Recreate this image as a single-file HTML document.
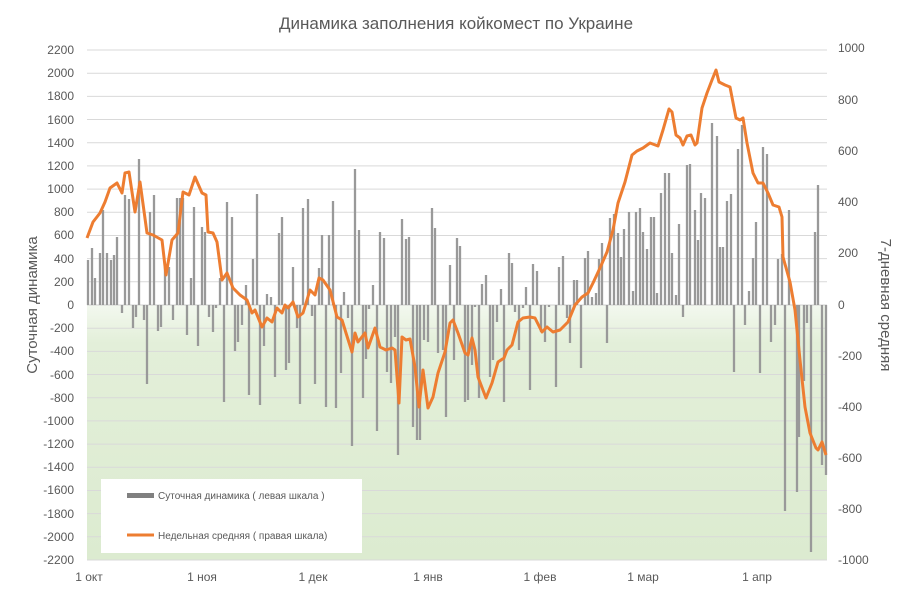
<!DOCTYPE html>
<html><head><meta charset="utf-8"><style>
body{margin:0;background:#fff;}
svg text{font-family:"Liberation Sans","DejaVu Sans",sans-serif;fill:#595959;}
</style></head><body>
<svg width="912" height="600" viewBox="0 0 912 600" xmlns="http://www.w3.org/2000/svg">
<defs><linearGradient id="g" x1="0" y1="0" x2="0" y2="1">
<stop offset="0" stop-color="#f3f8ef"/><stop offset="0.15" stop-color="#e3efd9"/><stop offset="1" stop-color="#dcebd0"/></linearGradient></defs>
<rect x="87" y="305" width="740" height="255" fill="url(#g)"/>
<g stroke="#d9d9d9" stroke-width="1">
<path d="M87 50H827M87 73.2H827M87 96.4H827M87 119.5H827M87 142.7H827M87 165.9H827M87 189.1H827M87 212.3H827M87 235.5H827M87 258.6H827M87 281.8H827M87 328.2H827M87 351.4H827M87 374.5H827M87 397.7H827M87 420.9H827M87 444.1H827M87 467.3H827M87 490.5H827M87 513.6H827M87 536.8H827M87 560H827"/>
</g>
<line x1="87" y1="305" x2="827" y2="305" stroke="#d0d0d0"/>
<path stroke="#999" stroke-width="2.3" fill="none" d="M88 305V260M92 305V248M95 305V278M100 305V253M103 305V210M107 305V253M111 305V260M114 305V255M117 305V237M122 305V313M125 305V195M129 305V199M133 305V328M136 305V317M139 305V159M144 305V320M147 305V384M150 305V212M154 305V195M158 305V331M161 305V327M165 305V267M169 305V267M173 305V320M177 305V198M180 305V198M183 305V198M187 305V335M191 305V278M194 305V207M198 305V346M202 305V227M205 305V232M209 305V317M213 305V332M216 305V308M220 305V278M224 305V402M227 305V202M232 305V217M235 305V351M238 305V342M242 305V325M246 305V285M249 305V395M253 305V259M257 305V194M260 305V405M264 305V346M267 305V294M271 305V297M275 305V377M279 305V233M282 305V217M286 305V370M289 305V363M293 305V267M297 305V328M300 305V404M303 305V208M308 305V199M312 305V316M315 305V384M319 305V268M322 305V235M326 305V407M329 305V235M333 305V201M336 305V408M341 305V373M344 305V292M348 305V318M352 305V446M355 305V169M359 305V230M363 305V398M366 305V359M369 305V309M373 305V285M377 305V431M380 305V232M384 305V238M387 305V372M391 305V383M395 305V337M398 305V455M402 305V219M406 305V239M409 305V237M413 305V427M417 305V440M420 305V440M424 305V340M428 305V342M432 305V208M435 305V228M438 305V353M443 305V350M446 305V417M450 305V265M454 305V360M457 305V238M460 305V246M465 305V402M468 305V400M472 305V365M475 305V307M479 305V398M482 305V284M486 305V275M490 305V377M493 305V360M497 305V322M501 305V289M504 305V402M509 305V253M512 305V263M515 305V312M519 305V350M523 305V308M526 305V287M530 305V390M533 305V264M537 305V271M541 305V332M545 305V342M549 305V307M556 305V387M559 305V267M563 305V256M567 305V318M570 305V343M574 305V280M577 305V280M581 305V368M585 305V258M588 305V251M592 305V297M596 305V293M599 305V259M602 305V243M607 305V343M610 305V218M614 305V214M618 305V233M621 305V257M624 305V229M629 305V212M633 305V291M636 305V212M640 305V208M643 305V232M647 305V249M651 305V217M654 305V217M657 305V293M661 305V193M665 305V173M669 305V173M672 305V253M676 305V295M679 305V224M683 305V317M687 305V165M690 305V164M695 305V210M698 305V240M701 305V193M705 305V198M712 305V123M717 305V136M720 305V247M723 305V247M727 305V201M731 305V194M734 305V372M738 305V149M742 305V125M745 305V325M749 305V291M753 305V258M756 305V222M760 305V373M763 305V147M767 305V154M771 305V342M775 305V325M778 305V259M782 305V254M785 305V511M789 305V210M797 305V492M799 305V437M804 305V381M807 305V323M811 305V552M815 305V232M818 305V185M822 305V465M826 305V475"/>
<polyline fill="none" stroke="#ED7D31" stroke-width="3" stroke-linejoin="round" points="87,238 93,222 100,213 105,202 110,188 117,183 122,193 125,173 129,172 135,212 140,182 147,233 153,235 162,240 166,275 172,240 178,233 183,192 189,195 195,177 202,193 206,195 208,232 213,233 217,242 222,280 227,273 233,288 240,295 247,300 252,313 255,310 262,327 267,318 272,322 277,308 282,313 285,305 288,308 293,302 298,317 303,313 310,290 315,295 319,278 323,280 330,290 337,317 342,320 346,333 352,352 355,333 358,342 365,333 368,348 375,328 380,347 386,350 392,348 395,350 399,403 402,337 406,340 410,339 415,367 419,407 423,370 428,408 433,397 438,373 445,352 450,323 453,320 458,333 465,353 468,355 472,338 475,350 478,377 486,398 492,383 498,362 504,358 507,350 512,345 518,322 523,318 530,317 535,318 542,332 547,327 553,332 560,330 568,322 575,305 582,297 588,293 593,283 600,268 607,252 613,230 618,203 625,182 632,155 637,151 643,148 650,143 658,146 663,130 669,109 672,112 676,135 680,138 683,145 687,136 691,135 695,145 697,143 702,108 707,93 712,80 716,70 719,82 725,85 730,87 736,118 740,120 743,118 747,143 753,173 758,183 763,183 768,193 773,205 779,207 782,217 783,257 790,282 795,310 800,360 805,407 810,433 816,448 818,450 822,442 826,455"/>
<g font-size="12" text-anchor="end">
<text x="74" y="54">2200</text><text x="74" y="77">2000</text><text x="74" y="100">1800</text><text x="74" y="124">1600</text><text x="74" y="147">1400</text><text x="74" y="170">1200</text><text x="74" y="193">1000</text><text x="74" y="216">800</text><text x="74" y="239">600</text><text x="74" y="263">400</text><text x="74" y="286">200</text><text x="74" y="309">0</text><text x="74" y="332">-200</text><text x="74" y="355">-400</text><text x="74" y="379">-600</text><text x="74" y="402">-800</text><text x="74" y="425">-1000</text><text x="74" y="448">-1200</text><text x="74" y="471">-1400</text><text x="74" y="494">-1600</text><text x="74" y="518">-1800</text><text x="74" y="541">-2000</text><text x="74" y="564">-2200</text>
</g>
<g font-size="12" text-anchor="start">
<text x="838" y="52">1000</text><text x="838" y="104">800</text><text x="838" y="155">600</text><text x="838" y="206">400</text><text x="838" y="257">200</text><text x="838" y="309">0</text><text x="838" y="360">-200</text><text x="838" y="411">-400</text><text x="838" y="462">-600</text><text x="838" y="513">-800</text><text x="838" y="564">-1000</text>
</g>
<g font-size="12" text-anchor="middle">
<text x="89" y="581">1 окт</text><text x="202" y="581">1 ноя</text><text x="313" y="581">1 дек</text><text x="428" y="581">1 янв</text><text x="540" y="581">1 фев</text><text x="643" y="581">1 мар</text><text x="757" y="581">1 апр</text>
</g>
<text x="456" y="29" font-size="17" text-anchor="middle" fill="#404040">Динамика заполнения койкомест по Украине</text>
<text transform="translate(37,305) rotate(-90)" font-size="15" text-anchor="middle" fill="#404040">Суточная динамика</text>
<text transform="translate(881,305) rotate(90)" font-size="15" text-anchor="middle" fill="#404040">7-дневная средняя</text>
<rect x="101" y="479" width="261" height="74" fill="#fff"/>
<rect x="127" y="493" width="27" height="5" fill="#808080"/>
<line x1="127" y1="535" x2="154" y2="535" stroke="#ED7D31" stroke-width="3"/>
<g font-size="10" fill="#404040"><text x="158" y="499">Суточная динамика ( левая шкала )</text><text x="158" y="539">Недельная средняя ( правая шкала)</text></g>
</svg>
</body></html>
